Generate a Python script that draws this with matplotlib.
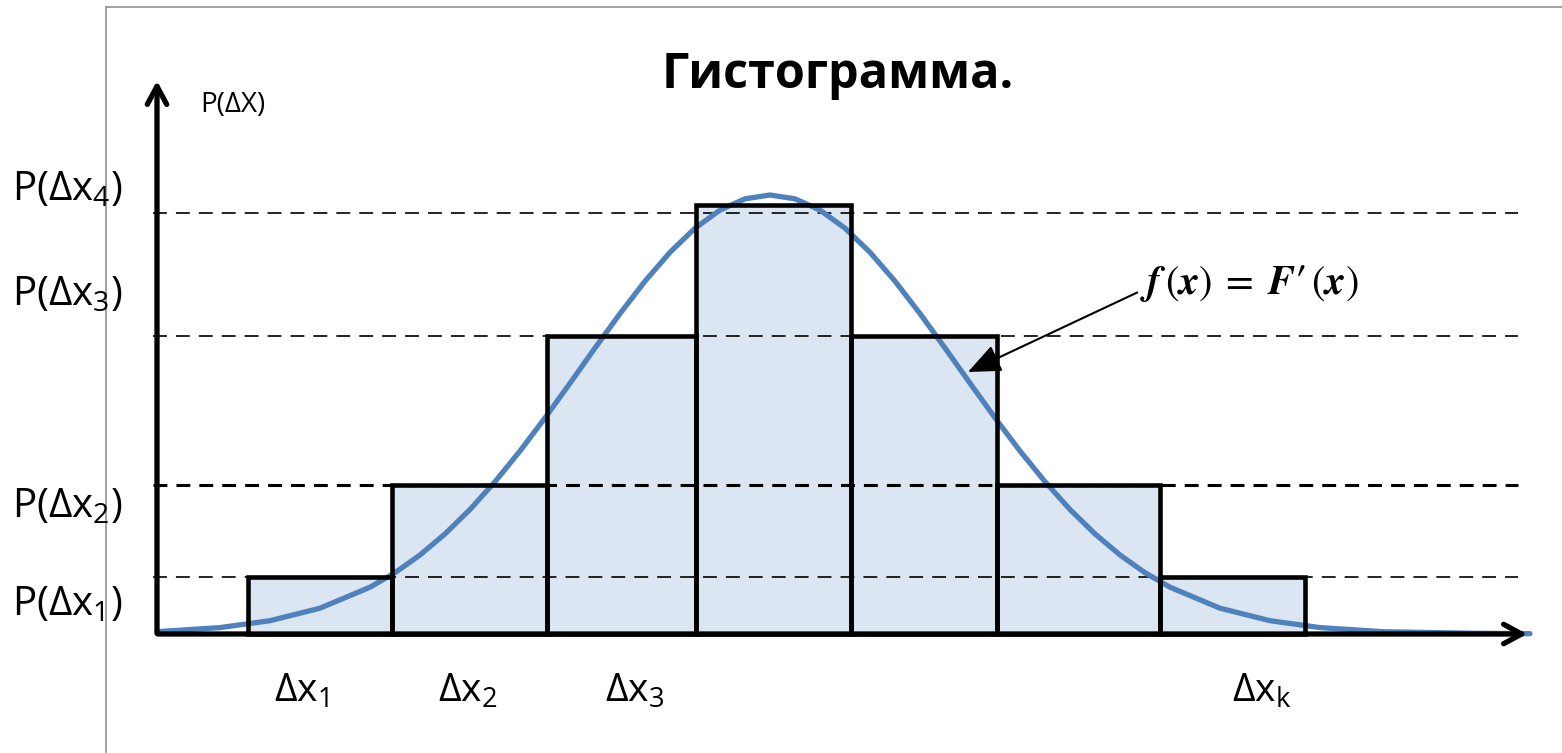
import matplotlib.pyplot as plt
from matplotlib.patches import FancyArrowPatch
import numpy as np

plt.rcParams['font.family'] = ['Open Sans', 'DejaVu Sans']
plt.rcParams['mathtext.fontset'] = 'custom'
plt.rcParams['mathtext.rm'] = 'Open Sans'
plt.rcParams['lines.scale_dashes'] = False

# histogram bins (left edges + last right edge) and bar heights
bin_edges = [91, 235, 390, 539, 694, 840, 1003, 1148]
bar_heights = [57, 149, 298, 429, 298, 149, 57]
# dashed guide levels P(dx1)..P(dx4)
guide_levels = [57, 149, 298, 421]
guide_widths = [1.2, 2.2, 1.2, 1.2]
y_labels = [r'$\mathregular{P(Δx_1)}$', r'$\mathregular{P(Δx_2)}$',
            r'$\mathregular{P(Δx_3)}$', r'$\mathregular{P(Δx_4)}$']
y_label_pos = [29, 127, 339, 444]
x_labels = [r'$\mathregular{Δx_1}$', r'$\mathregular{Δx_2}$',
            r'$\mathregular{Δx_3}$', r'$\mathregular{Δx_k}$']
x_label_pos = [144, 311, 478, 1105]

# density curve points
curve_x = [0, 63, 113, 163, 213, 238, 263, 288, 313, 338, 363, 388, 413,
           438, 463, 488, 513, 538, 563, 588, 613, 638, 663, 688, 713,
           738, 763, 788, 813, 838, 863, 888, 913, 938, 963, 988, 1013,
           1063, 1113, 1163, 1226, 1313, 1373]
curve_y = [2.3, 6.4, 13.3, 25.8, 46.8, 61.3, 79.0, 100.1, 124.5, 152.3,
           183.0, 216.1, 250.8, 286.0, 320.4, 352.8, 381.7, 405.8, 423.9,
           435.2, 439.0, 435.2, 423.9, 405.8, 381.7, 352.8, 320.4, 286.0,
           250.8, 216.1, 183.0, 152.3, 124.5, 100.1, 79.0, 61.3, 46.8,
           25.8, 13.3, 6.4, 2.3, 0.8, 0.3]

fig = plt.figure(figsize=(15.62, 7.53), dpi=100)
ax = fig.add_axes([0, 0, 1, 1])
ax.set_xlim(-157, 1405)
ax.set_ylim(-119, 634)
ax.axis('off')

# outer frame
ax.plot([-51, -51], [-119, 627], color='#9a9a9a', lw=1.3)
ax.plot([-51, 1405], [627, 627], color='#9a9a9a', lw=1.3)

widths = np.diff(bin_edges)
ax.bar(bin_edges[:-1], bar_heights, width=widths, align='edge',
       color='#dce6f2', edgecolor='none', zorder=1)

for lvl, lw in zip(guide_levels, guide_widths):
    ax.plot([-4, 1361], [lvl, lvl], color='black', lw=lw,
            dashes=(10, 6.5), zorder=2)

ax.plot(curve_x, curve_y, color='#4f81bd', lw=3.8, zorder=3,
        solid_capstyle='round', solid_joinstyle='round')

ax.bar(bin_edges[:-1], bar_heights, width=widths, align='edge',
       color='none', edgecolor='black', lw=3.3, zorder=4)

# axes with arrows
ax.add_patch(FancyArrowPatch((0, -2), (0, 556), arrowstyle='->,head_length=13,head_width=7',
                             mutation_scale=1, lw=3.8, color='black', zorder=5))
ax.add_patch(FancyArrowPatch((-2, 0), (1373, 0), arrowstyle='->,head_length=13,head_width=7',
                             mutation_scale=1, lw=3.8, color='black', zorder=5))

ax.text(681, 559, 'Гистограмма.', fontsize=35, fontweight='bold',
        ha='center', va='center')
ax.text(43, 529, 'P(ΔX)', fontsize=20, ha='left', va='center')

for lab, yp in zip(y_labels, y_label_pos):
    ax.text(-145, yp, lab, fontsize=29, ha='left', va='center')
for lab, xp in zip(x_labels, x_label_pos):
    ax.text(xp, -58, lab, fontsize=28, ha='center', va='center')

ax.annotate(r'$\mathbfit{f}\,(\mathbfit{x})\;=\;\mathbfit{F}\mathbf{\prime}\,(\mathbfit{x})$',
            xy=(811, 262), xytext=(983, 351),
            fontsize=29, math_fontfamily='stix',
            ha='left', va='center',
            arrowprops=dict(arrowstyle='-|>,head_length=0.7,head_width=0.3',
                            color='black', lw=1.5, shrinkA=0, shrinkB=0,
                            relpos=(0, 0.3)))

fig.savefig('out.png', dpi=100)
